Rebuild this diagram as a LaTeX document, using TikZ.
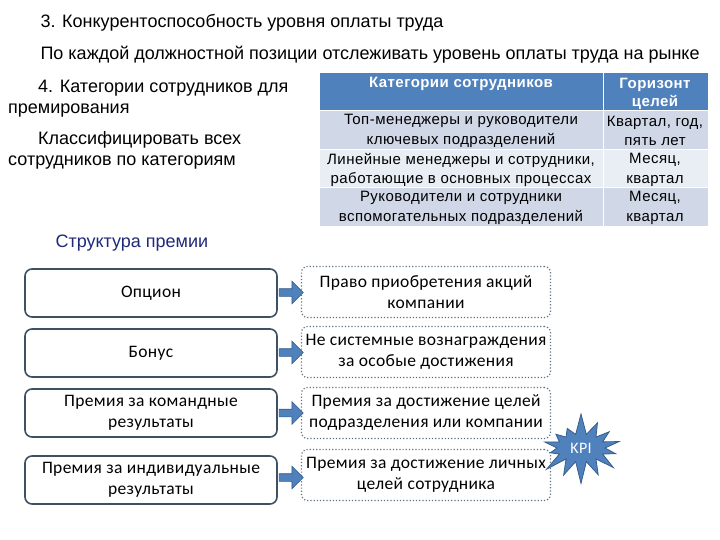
\documentclass[tikz,border=0pt]{standalone}
\usepackage{fontspec}
\setmainfont{Liberation Sans}
\newfontfamily\tabfont[LetterSpace=3]{Liberation Sans}
\newfontfamily\boxfont[LetterSpace=2]{Carlito}
\usetikzlibrary{shapes.arrows,shapes.symbols}

\definecolor{headblue}{HTML}{4F81BD}
\definecolor{rowdark}{HTML}{D0D8E8}
\definecolor{rowlight}{HTML}{E9EDF4}
\definecolor{boxline}{HTML}{3E5164}
\definecolor{dotline}{HTML}{5E7187}
\definecolor{arrowline}{HTML}{385D8A}
\definecolor{navy}{HTML}{1F2A78}

\tikzset{
    leftbox/.style={draw=boxline,line width=1.6pt,rounded corners=7pt,fill=white,
        minimum width=252pt,minimum height=48pt,align=center,
        font=\boxfont\fontsize{17.5}{21}\selectfont},
    rightbox/.style={draw=dotline,dotted,line width=1.2pt,rounded corners=6pt,fill=white,
        minimum width=249pt,minimum height=51pt,align=center,
        font=\boxfont\fontsize{17.5}{21}\selectfont},
    blockarrow/.style={single arrow,draw=arrowline,fill=headblue,line width=0.6pt,
        inner sep=3.5pt,single arrow head extend=7.5pt,minimum height=24pt},
    tabtext/.style={align=center,font=\tabfont\fontsize{15}{19.5}\selectfont},
    tabhead/.style={align=center,text=white,font=\tabfont\bfseries\fontsize{15}{18}\selectfont},
    plaintext/.style={anchor=north west,align=left,inner sep=0pt,font=\fontsize{18}{21}\selectfont},
}

\begin{document}
\begin{tikzpicture}[x=1pt,y=-1pt]
    \useasboundingbox[fill=white] (0,0) rectangle (720,540);

    \node[anchor=west,font=\fontsize{18}{21}\selectfont] (title) at (37,23)
        {3. Конкурентоспособность уровня оплаты труда};
    \node[anchor=west,font=\fontsize{18}{21}\selectfont] (task) at (37,55)
        {По каждой должностной позиции отслеживать уровень оплаты труда на рынке};

    \node[plaintext] (cattitle) at (8,80)
        {\hspace*{30pt}4. Категории сотрудников для\\премирования};
    \node[plaintext] (cattask) at (8,131)
        {\hspace*{30pt}Классифицировать всех\\сотрудников по категориям};

    % table
    \fill[headblue] (320,73) rectangle (708,111);
    \fill[rowdark] (320,111) rectangle (708,150);
    \fill[rowlight] (320,150) rectangle (708,188);
    \fill[rowdark] (320,188) rectangle (708,226);
    \foreach \y in {111,150,188} {
        \draw[white,line width=1pt] (320,\y) -- (708,\y);
    }
    \draw[white,line width=1pt] (603,73) -- (603,226);

    \node[tabhead] (cathead) at (461,84) {Категории сотрудников};
    \node[tabhead] (horhead) at (655,94) {Горизонт\\целей};
    \node[tabtext] (cat1) at (461,131) {Топ-менеджеры и руководители\\ключевых подразделений};
    \node[tabtext] (cat2) at (461,170) {Линейные менеджеры и сотрудники,\\работающие в основных процессах};
    \node[tabtext] (cat3) at (461,208) {Руководители и сотрудники\\вспомогательных подразделений};
    \node[tabtext] (hor1) at (655,131) {Квартал, год,\\пять лет};
    \node[tabtext] (hor2) at (655,170) {Месяц,\\квартал};
    \node[tabtext] (hor3) at (655,208) {Месяц,\\квартал};

    % bonus structure
    \node[anchor=west,text=navy,font=\fontsize{18}{21}\selectfont] (bonus) at (52,243) {Структура премии};

    \node[leftbox] (option) at (151,293) {Опцион};
    \node[leftbox] (extra) at (151,353) {Бонус};
    \node[leftbox] (team) at (151,413) {Премия за командные\\результаты};
    \node[leftbox] (indiv) at (151,480) {Премия за индивидуальные\\результаты};

    \node[rightbox] (shares) at (426,292) {Право приобретения акций\\компании};
    \node[rightbox] (award) at (426,352) {Не системные вознаграждения\\за особые достижения};
    \node[rightbox] (unit) at (426,413) {Премия за достижение целей\\подразделения или компании};
    \node[rightbox] (personal) at (426,475) {Премия за достижение личных\\целей сотрудника};

    \foreach \a/\b in {option/shares,extra/award,team/unit,indiv/personal} {
        \path (\a.east) -- node[blockarrow] {} (\b.west);
    }

    \node[starburst,starburst points=14,starburst point height=22pt,random starburst=7,
        draw=arrowline,fill=headblue,line width=0.8pt,minimum width=92pt,minimum height=72pt,
        text=white,font=\boxfont\fontsize{16}{18}\selectfont] (kpi) at (581,448) {KPI};
\end{tikzpicture}
\end{document}
